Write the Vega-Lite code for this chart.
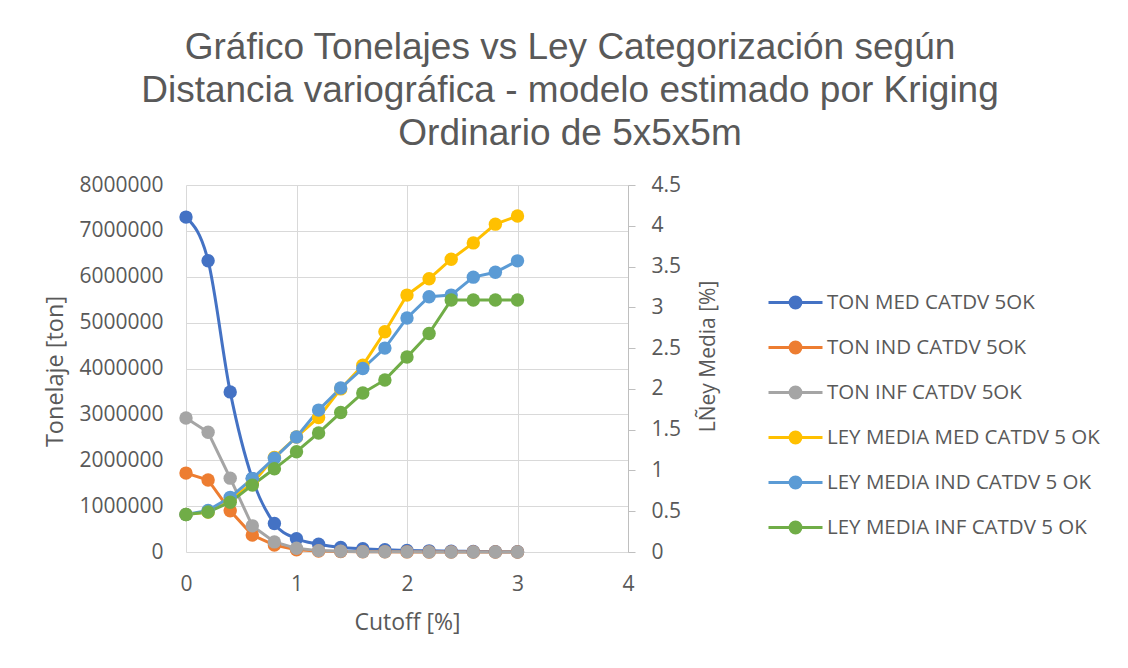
{
  "$schema": "https://vega.github.io/schema/vega-lite/v6.json",
  "width": 442,
  "height": 367,
  "autosize": {"type": "none"},
  "padding": {"left": 186, "top": 185, "right": 500, "bottom": 116},
  "background": "white",
  "title": {
    "text": ["Gráfico Tonelajes vs Ley Categorización según", "Distancia variográfica - modelo estimado por Kriging", "Ordinario de 5x5x5m"],
    "font": "Liberation Sans",
    "fontSize": 37,
    "fontWeight": "normal",
    "color": "#595959",
    "lineHeight": 43,
    "anchor": "middle",
    "frame": "group",
    "dx": 163,
    "offset": 21
  },
  "config": {
    "view": {"stroke": null},
    "axis": {
      "labelFont": "Open Sans",
      "labelFontSize": 21,
      "labelColor": "#595959",
      "labelFlush": false,
      "titleFont": "Open Sans",
      "titleFontSize": 23,
      "titleFontWeight": "normal",
      "titleColor": "#595959",
      "gridColor": "#d9d9d9",
      "gridWidth": 1
    }
  },
  "datasets": {
    "d": [
      {"cutoff": 0.0, "series": "TON MED CATDV 5OK", "value": 7300000},
      {"cutoff": 0.2, "series": "TON MED CATDV 5OK", "value": 6350000},
      {"cutoff": 0.4, "series": "TON MED CATDV 5OK", "value": 3490000},
      {"cutoff": 0.6, "series": "TON MED CATDV 5OK", "value": 1600000},
      {"cutoff": 0.8, "series": "TON MED CATDV 5OK", "value": 620000},
      {"cutoff": 1.0, "series": "TON MED CATDV 5OK", "value": 290000},
      {"cutoff": 1.2, "series": "TON MED CATDV 5OK", "value": 170000},
      {"cutoff": 1.4, "series": "TON MED CATDV 5OK", "value": 100000},
      {"cutoff": 1.6, "series": "TON MED CATDV 5OK", "value": 70000},
      {"cutoff": 1.8, "series": "TON MED CATDV 5OK", "value": 50000},
      {"cutoff": 2.0, "series": "TON MED CATDV 5OK", "value": 35000},
      {"cutoff": 2.2, "series": "TON MED CATDV 5OK", "value": 25000},
      {"cutoff": 2.4, "series": "TON MED CATDV 5OK", "value": 18000},
      {"cutoff": 2.6, "series": "TON MED CATDV 5OK", "value": 12000},
      {"cutoff": 2.8, "series": "TON MED CATDV 5OK", "value": 8000},
      {"cutoff": 3.0, "series": "TON MED CATDV 5OK", "value": 5000},
      {"cutoff": 0.0, "series": "TON IND CATDV 5OK", "value": 1720000},
      {"cutoff": 0.2, "series": "TON IND CATDV 5OK", "value": 1570000},
      {"cutoff": 0.4, "series": "TON IND CATDV 5OK", "value": 900000},
      {"cutoff": 0.6, "series": "TON IND CATDV 5OK", "value": 370000},
      {"cutoff": 0.8, "series": "TON IND CATDV 5OK", "value": 150000},
      {"cutoff": 1.0, "series": "TON IND CATDV 5OK", "value": 50000},
      {"cutoff": 1.2, "series": "TON IND CATDV 5OK", "value": 20000},
      {"cutoff": 1.4, "series": "TON IND CATDV 5OK", "value": 10000},
      {"cutoff": 1.6, "series": "TON IND CATDV 5OK", "value": 5000},
      {"cutoff": 1.8, "series": "TON IND CATDV 5OK", "value": 3000},
      {"cutoff": 2.0, "series": "TON IND CATDV 5OK", "value": 2000},
      {"cutoff": 2.2, "series": "TON IND CATDV 5OK", "value": 1000},
      {"cutoff": 2.4, "series": "TON IND CATDV 5OK", "value": 1000},
      {"cutoff": 2.6, "series": "TON IND CATDV 5OK", "value": 500},
      {"cutoff": 2.8, "series": "TON IND CATDV 5OK", "value": 300},
      {"cutoff": 3.0, "series": "TON IND CATDV 5OK", "value": 200},
      {"cutoff": 0.0, "series": "TON INF CATDV 5OK", "value": 2920000},
      {"cutoff": 0.2, "series": "TON INF CATDV 5OK", "value": 2610000},
      {"cutoff": 0.4, "series": "TON INF CATDV 5OK", "value": 1610000},
      {"cutoff": 0.6, "series": "TON INF CATDV 5OK", "value": 570000},
      {"cutoff": 0.8, "series": "TON INF CATDV 5OK", "value": 220000},
      {"cutoff": 1.0, "series": "TON INF CATDV 5OK", "value": 80000},
      {"cutoff": 1.2, "series": "TON INF CATDV 5OK", "value": 30000},
      {"cutoff": 1.4, "series": "TON INF CATDV 5OK", "value": 15000},
      {"cutoff": 1.6, "series": "TON INF CATDV 5OK", "value": 8000},
      {"cutoff": 1.8, "series": "TON INF CATDV 5OK", "value": 5000},
      {"cutoff": 2.0, "series": "TON INF CATDV 5OK", "value": 3000},
      {"cutoff": 2.2, "series": "TON INF CATDV 5OK", "value": 2000},
      {"cutoff": 2.4, "series": "TON INF CATDV 5OK", "value": 1000},
      {"cutoff": 2.6, "series": "TON INF CATDV 5OK", "value": 800},
      {"cutoff": 2.8, "series": "TON INF CATDV 5OK", "value": 500},
      {"cutoff": 3.0, "series": "TON INF CATDV 5OK", "value": 300}
    ],
    "ley": [
      {"cutoff": 0.0, "series": "LEY MEDIA MED CATDV 5 OK", "value": 0.46},
      {"cutoff": 0.2, "series": "LEY MEDIA MED CATDV 5 OK", "value": 0.49},
      {"cutoff": 0.4, "series": "LEY MEDIA MED CATDV 5 OK", "value": 0.64},
      {"cutoff": 0.6, "series": "LEY MEDIA MED CATDV 5 OK", "value": 0.84},
      {"cutoff": 0.8, "series": "LEY MEDIA MED CATDV 5 OK", "value": 1.16},
      {"cutoff": 1.0, "series": "LEY MEDIA MED CATDV 5 OK", "value": 1.41},
      {"cutoff": 1.2, "series": "LEY MEDIA MED CATDV 5 OK", "value": 1.65},
      {"cutoff": 1.4, "series": "LEY MEDIA MED CATDV 5 OK", "value": 2.0},
      {"cutoff": 1.6, "series": "LEY MEDIA MED CATDV 5 OK", "value": 2.29},
      {"cutoff": 1.8, "series": "LEY MEDIA MED CATDV 5 OK", "value": 2.7},
      {"cutoff": 2.0, "series": "LEY MEDIA MED CATDV 5 OK", "value": 3.15},
      {"cutoff": 2.2, "series": "LEY MEDIA MED CATDV 5 OK", "value": 3.35},
      {"cutoff": 2.4, "series": "LEY MEDIA MED CATDV 5 OK", "value": 3.59},
      {"cutoff": 2.6, "series": "LEY MEDIA MED CATDV 5 OK", "value": 3.79},
      {"cutoff": 2.8, "series": "LEY MEDIA MED CATDV 5 OK", "value": 4.02},
      {"cutoff": 3.0, "series": "LEY MEDIA MED CATDV 5 OK", "value": 4.12},
      {"cutoff": 0.0, "series": "LEY MEDIA IND CATDV 5 OK", "value": 0.46},
      {"cutoff": 0.2, "series": "LEY MEDIA IND CATDV 5 OK", "value": 0.51},
      {"cutoff": 0.4, "series": "LEY MEDIA IND CATDV 5 OK", "value": 0.67},
      {"cutoff": 0.6, "series": "LEY MEDIA IND CATDV 5 OK", "value": 0.9},
      {"cutoff": 0.8, "series": "LEY MEDIA IND CATDV 5 OK", "value": 1.15},
      {"cutoff": 1.0, "series": "LEY MEDIA IND CATDV 5 OK", "value": 1.41},
      {"cutoff": 1.2, "series": "LEY MEDIA IND CATDV 5 OK", "value": 1.74},
      {"cutoff": 1.4, "series": "LEY MEDIA IND CATDV 5 OK", "value": 2.01},
      {"cutoff": 1.6, "series": "LEY MEDIA IND CATDV 5 OK", "value": 2.25},
      {"cutoff": 1.8, "series": "LEY MEDIA IND CATDV 5 OK", "value": 2.5},
      {"cutoff": 2.0, "series": "LEY MEDIA IND CATDV 5 OK", "value": 2.87},
      {"cutoff": 2.2, "series": "LEY MEDIA IND CATDV 5 OK", "value": 3.13},
      {"cutoff": 2.4, "series": "LEY MEDIA IND CATDV 5 OK", "value": 3.15},
      {"cutoff": 2.6, "series": "LEY MEDIA IND CATDV 5 OK", "value": 3.37},
      {"cutoff": 2.8, "series": "LEY MEDIA IND CATDV 5 OK", "value": 3.43},
      {"cutoff": 3.0, "series": "LEY MEDIA IND CATDV 5 OK", "value": 3.57},
      {"cutoff": 0.0, "series": "LEY MEDIA INF CATDV 5 OK", "value": 0.46},
      {"cutoff": 0.2, "series": "LEY MEDIA INF CATDV 5 OK", "value": 0.49},
      {"cutoff": 0.4, "series": "LEY MEDIA INF CATDV 5 OK", "value": 0.61},
      {"cutoff": 0.6, "series": "LEY MEDIA INF CATDV 5 OK", "value": 0.82},
      {"cutoff": 0.8, "series": "LEY MEDIA INF CATDV 5 OK", "value": 1.02},
      {"cutoff": 1.0, "series": "LEY MEDIA INF CATDV 5 OK", "value": 1.23},
      {"cutoff": 1.2, "series": "LEY MEDIA INF CATDV 5 OK", "value": 1.46},
      {"cutoff": 1.4, "series": "LEY MEDIA INF CATDV 5 OK", "value": 1.71},
      {"cutoff": 1.6, "series": "LEY MEDIA INF CATDV 5 OK", "value": 1.95},
      {"cutoff": 1.8, "series": "LEY MEDIA INF CATDV 5 OK", "value": 2.11},
      {"cutoff": 2.0, "series": "LEY MEDIA INF CATDV 5 OK", "value": 2.39},
      {"cutoff": 2.2, "series": "LEY MEDIA INF CATDV 5 OK", "value": 2.68},
      {"cutoff": 2.4, "series": "LEY MEDIA INF CATDV 5 OK", "value": 3.09},
      {"cutoff": 2.6, "series": "LEY MEDIA INF CATDV 5 OK", "value": 3.09},
      {"cutoff": 2.8, "series": "LEY MEDIA INF CATDV 5 OK", "value": 3.09},
      {"cutoff": 3.0, "series": "LEY MEDIA INF CATDV 5 OK", "value": 3.09}
    ]
  },
  "encoding": {
    "x": {
      "field": "cutoff",
      "type": "quantitative",
      "scale": {"domain": [0, 4], "nice": false},
      "axis": {
        "values": [0, 1, 2, 3, 4],
        "title": "Cutoff [%]",
        "domain": false,
        "ticks": false,
        "labelPadding": 21,
        "titleX": 221,
        "titleY": 70,
        "titleBaseline": "middle",
        "titleAlign": "center"
      }
    },
    "color": {
      "field": "series",
      "type": "nominal",
      "scale": {
        "domain": ["TON MED CATDV 5OK", "TON IND CATDV 5OK", "TON INF CATDV 5OK", "LEY MEDIA MED CATDV 5 OK", "LEY MEDIA IND CATDV 5 OK", "LEY MEDIA INF CATDV 5 OK"],
        "range": ["#4472C4", "#ED7D31", "#A5A5A5", "#FFC000", "#5B9BD5", "#70AD47"]
      },
      "legend": {
        "title": null,
        "orient": "none",
        "legendX": 581,
        "legendY": 89,
        "padding": 0,
        "labelFont": "Open Sans",
        "labelFontSize": 20.5,
        "labelColor": "#595959",
        "labelOffset": 3,
        "labelLimit": 0,
        "symbolType": "M-1,0H1M-0.2,0A0.2,0.2 0 1,0 0.2,0A0.2,0.2 0 1,0 -0.2,0Z",
        "symbolSize": 2916,
        "symbolStrokeWidth": 3,
        "rowPadding": 5,
        "encode": {
          "symbols": {
            "update": {
              "fill": {"scale": "color", "field": "value"},
              "stroke": {"scale": "color", "field": "value"},
              "opacity": {"value": 1}
            }
          }
        }
      }
    }
  },
  "layer": [
    {
      "data": {"name": "d"},
      "encoding": {
        "y": {
          "field": "value",
          "type": "quantitative",
          "scale": {"domain": [0, 8000000], "nice": false},
          "axis": {
            "values": [0, 1000000, 2000000, 3000000, 4000000, 5000000, 6000000, 7000000, 8000000],
            "format": "d",
            "title": "Tonelaje [ton]",
            "domain": false,
            "ticks": false,
            "labelPadding": 23,
            "titleFontSize": 23.5,
            "titleAngle": -90,
            "titleX": -131,
            "titleY": 186,
            "titleBaseline": "middle",
            "titleAlign": "center"
          }
        }
      },
      "layer": [
        {
          "transform": [{"filter": "datum.series === 'TON MED CATDV 5OK'"}],
          "mark": {"type": "line", "strokeWidth": 3, "interpolate": "monotone"}
        },
        {
          "transform": [{"filter": "datum.series !== 'TON MED CATDV 5OK'"}],
          "mark": {"type": "line", "strokeWidth": 3}
        },
        {
          "mark": {"type": "circle", "size": 180, "opacity": 1}
        }
      ]
    },
    {
      "data": {"name": "ley"},
      "encoding": {
        "y": {
          "field": "value",
          "type": "quantitative",
          "scale": {"domain": [0, 4.5], "nice": false},
          "axis": {
            "orient": "right",
            "values": [0, 0.5, 1, 1.5, 2, 2.5, 3, 3.5, 4, 4.5],
            "format": "~g",
            "title": "LÑey Media [%]",
            "titleFontSize": 21,
            "grid": false,
            "domain": true,
            "domainColor": "#bfbfbf",
            "ticks": true,
            "tickColor": "#bfbfbf",
            "tickSize": 7,
            "labelPadding": 16,
            "titleAngle": -90,
            "titleX": 80,
            "titleY": 171,
            "titleBaseline": "middle",
            "titleAlign": "center"
          }
        }
      },
      "layer": [
        {
          "mark": {"type": "line", "strokeWidth": 3}
        },
        {
          "mark": {"type": "circle", "size": 180, "opacity": 1}
        }
      ]
    }
  ],
  "resolve": {"scale": {"y": "independent"}}
}
